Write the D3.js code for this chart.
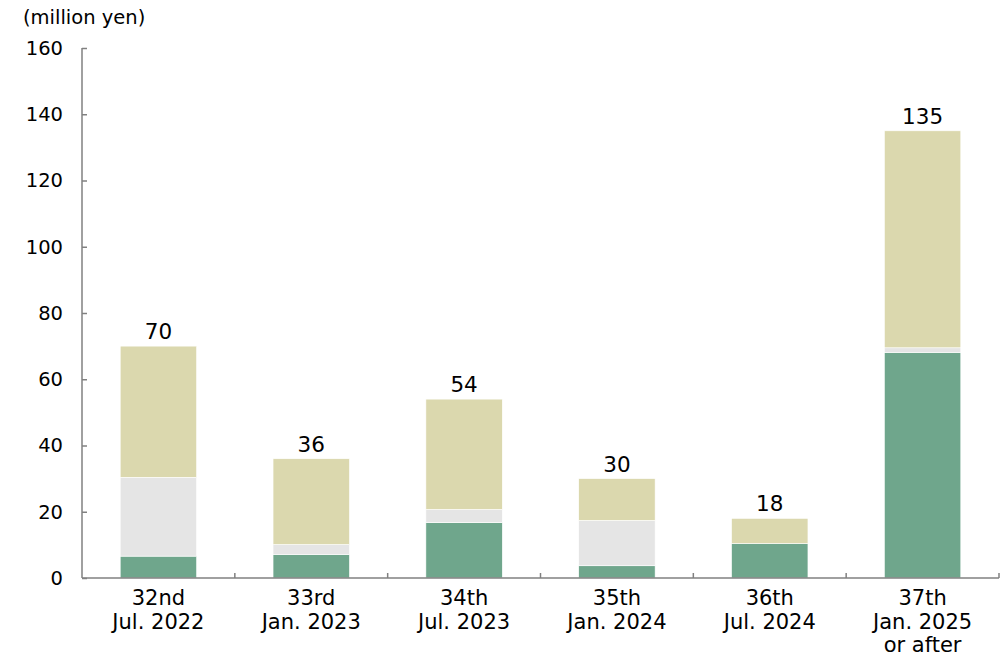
<!DOCTYPE html>
<html>
<head>
<meta charset="utf-8">
<script src="https://cdn.jsdelivr.net/npm/d3@7"></script>
<style>
  body { margin: 0; background: #fff; }
  text { font-family: "DejaVu Sans", Verdana, sans-serif; fill: #000; }
</style>
</head>
<body>
<div id="chart"></div>
<script>
// periods on the x axis (two or three lines each)
var periods = [
    ["32nd", "Jul. 2022"],
    ["33rd", "Jan. 2023"],
    ["34th", "Jul. 2023"],
    ["35th", "Jan. 2024"],
    ["36th", "Jul. 2024"],
    ["37th", "Jan. 2025", "or after"]
];

// stacked segments, bottom to top (million yen)
var greenPart = [6.6, 7.1, 16.7, 3.7, 10.4, 68.1];
var greyPart = [23.8, 3.0, 4.0, 13.7, 0, 1.4];
var khakiPart = [39.6, 25.9, 33.3, 12.6, 7.6, 65.5];

// totals printed above the bars
var totals = [70, 36, 54, 30, 18, 135];

var yTicks = [0, 20, 40, 60, 80, 100, 120, 140, 160];

var width = 1003;
var height = 656;

var margin = {
    top: 48,
    bottom: 78,
    left: 82,
    right: 4
};

var colors = ["#6fa68c", "#e5e5e5", "#dbd8ae"];

var svg = d3.select("#chart")
    .append("svg")
    .attr("width", width)
    .attr("height", height);

var innerW = width - margin.left - margin.right;
var innerH = height - margin.top - margin.bottom;

var g = svg.append("g")
    .attr("transform", "translate(" + margin.left + "," + margin.top + ")");

var x_scale = d3.scaleBand()
    .domain(d3.range(periods.length))
    .range([0, innerW])
    .paddingInner(0.5)
    .paddingOuter(0.25);

var y_scale = d3.scaleLinear()
    .domain([0, 160])
    .range([innerH, 0]);

var rows = periods.map(function(p, i) {
    return { idx: i, green: greenPart[i], grey: greyPart[i], khaki: khakiPart[i] };
});

var stack = d3.stack().keys(["green", "grey", "khaki"]);
var layers = stack(rows);

g.selectAll("g.layer")
    .data(layers)
    .enter()
    .append("g")
    .attr("class", "layer")
    .attr("fill", function(d, i) { return colors[i]; })
    .selectAll("rect")
    .data(function(d) { return d; })
    .enter()
    .append("rect")
    .attr("x", function(d) { return x_scale(d.data.idx); })
    .attr("width", x_scale.bandwidth())
    .attr("y", function(d) { return y_scale(d[1]); })
    .attr("height", function(d) { return y_scale(d[0]) - y_scale(d[1]); })
    .attr("stroke", "#fff")
    .attr("stroke-width", 0.6);

// total labels
g.selectAll("text.total")
    .data(totals)
    .enter()
    .append("text")
    .attr("class", "total")
    .attr("x", function(d, i) { return x_scale(i) + x_scale.bandwidth() / 2; })
    .attr("y", function(d) { return y_scale(d) - 7; })
    .attr("text-anchor", "middle")
    .style("font-size", "21.5px")
    .text(function(d) { return d; });

// y axis, ticks pointing inward
var y_axis = d3.axisRight(y_scale)
    .tickValues(yTicks)
    .tickSize(5)
    .tickFormat(d3.format("d"));

var yg = g.append("g")
    .attr("class", "y axis")
    .call(y_axis);
yg.select(".domain").attr("stroke", "#808080").attr("stroke-width", 1.5)
    .attr("d", "M0," + y_scale(160) + "V" + innerH);
yg.selectAll(".tick line").attr("stroke", "#808080").attr("stroke-width", 1.5);
yg.selectAll(".tick text")
    .attr("x", -19)
    .attr("text-anchor", "end")
    .style("font-size", "19.5px");

// x axis baseline and separators between periods
g.append("line")
    .attr("x1", 0)
    .attr("x2", innerW)
    .attr("y1", innerH)
    .attr("y2", innerH)
    .attr("stroke", "#808080")
    .attr("stroke-width", 1.5);

var step = x_scale.step();
var bandStart = x_scale(0) - x_scale.paddingInner() * step / 2;
g.selectAll("line.sep")
    .data(d3.range(1, periods.length + 1))
    .enter()
    .append("line")
    .attr("class", "sep")
    .attr("x1", function(d) { return bandStart + d * step; })
    .attr("x2", function(d) { return bandStart + d * step; })
    .attr("y1", innerH)
    .attr("y2", innerH - 5)
    .attr("stroke", "#808080")
    .attr("stroke-width", 1.5);

// category labels
var lbl = g.selectAll("text.cat")
    .data(periods)
    .enter()
    .append("text")
    .attr("class", "cat")
    .attr("text-anchor", "middle")
    .attr("transform", function(d, i) {
        return "translate(" + (x_scale(i) + x_scale.bandwidth() / 2) + "," + (innerH + 27) + ")";
    })
    .style("font-size", "21px");

lbl.selectAll("tspan")
    .data(function(d) { return d; })
    .enter()
    .append("tspan")
    .attr("x", 0)
    .attr("dy", function(d, i) { return i === 0 ? 0 : 23.5; })
    .text(function(d) { return d; });

// unit label
svg.append("text")
    .attr("x", 23)
    .attr("y", 24)
    .style("font-size", "19.5px")
    .text("(million yen)");
</script>
</body>
</html>
